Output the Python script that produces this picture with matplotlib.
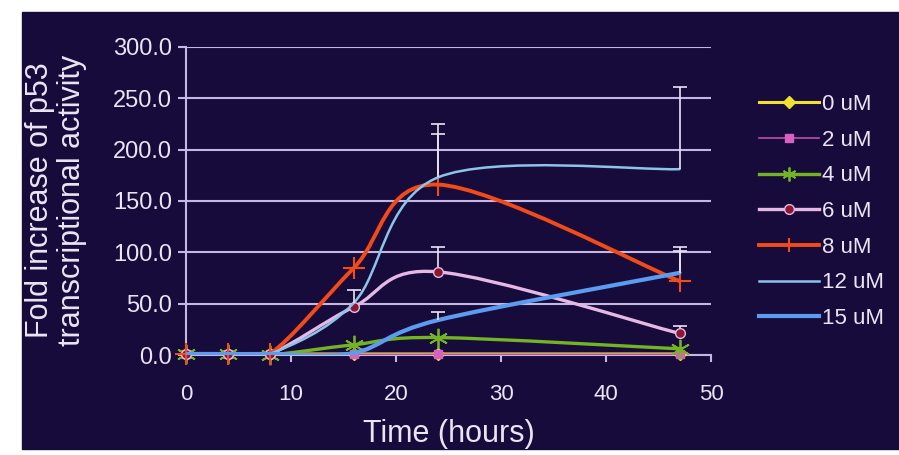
# -*- coding: utf-8 -*-
import numpy as np
import matplotlib
matplotlib.use('Agg')
from matplotlib import pyplot as plt
from matplotlib.path import Path
from matplotlib.patches import PathPatch, Rectangle
from matplotlib.lines import Line2D

plt.rcParams['font.family'] = ['Liberation Sans', 'DejaVu Sans']

# time points (hours)
hours = [0, 4, 8, 16, 24, 47]

# fold increase of p53 transcriptional activity per dose
labels = ['0 uM', '2 uM', '4 uM', '6 uM', '8 uM', '12 uM', '15 uM']
val_0 = [1, 1, 1, 1, 1, 1]
val_2 = [1, 1, 1, 0.6, 0.6, 0.6]
val_4 = [1, 0.5, 0, 10, 17, 6]
val_6 = [1, 1, 1, 47, 81, 21]
val_8 = [1, 1, 1, 85, 166, 72]
val_12 = [1, 1, 1, 51, 173, 181]
val_15 = [1, 1, 1, 2, 34, 80]

# upper error (0 = none drawn)
err_0 = [0, 0, 0, 0, 0, 0]
err_2 = [0, 0, 0, 0, 0, 0]
err_4 = [0, 0, 0, 0, 0, 0]
err_6 = [0, 0, 0, 0, 24, 7]
err_8 = [0, 0, 0, 0, 49, 29]
err_12 = [0, 0, 0, 12, 52, 80]
err_15 = [0, 0, 0, 0, 8, 25]

y_ticks = [0, 50, 100, 150, 200, 250, 300]
x_ticks = [0, 10, 20, 30, 40, 50]

BG = '#170b3c'
FG = '#ece4f4'
GRID = '#c6b6e4'

styles = [
    dict(color='#f2e030', lw=2.2, marker='D', ms=6, mfc='#f2e030', mec='#f2e030'),
    dict(color='#c04ca8', lw=1.2, marker='s', ms=6, mfc='#d860c0', mec='#d860c0'),
    dict(color='#74b424', lw=2.4, marker=(6, 2, 0), ms=14, mfc='#74b424', mec='#74b424', mew=1.3),
    dict(color='#e6b8e6', lw=2.4, marker='o', ms=7, mfc='#8c1830', mec='#e6b8e6', mew=1.0),
    dict(color='#f24a18', lw=2.8, marker='+', ms=16, mfc='#f24a18', mec='#f24a18', mew=1.5),
    dict(color='#8cc4e8', lw=1.8, marker='None'),
    dict(color='#5c9cf0', lw=3.0, marker='None'),
]


def smooth_path(x, y):
    """bezier path through the points, like excel smoothed lines"""
    pts = np.column_stack([x, y]).astype(float)
    n = len(pts)
    verts = [pts[0]]
    codes = [Path.MOVETO]
    for i in range(n - 1):
        p0 = pts[max(i - 1, 0)]
        p1 = pts[i]
        p2 = pts[i + 1]
        p3 = pts[min(i + 2, n - 1)]
        verts += [p1 + (p2 - p0) / 6.0, p2 - (p3 - p1) / 6.0, p2]
        codes += [Path.CURVE4] * 3
    return Path(verts, codes)


def main():
    fig = plt.figure(figsize=(8.99, 4.55), dpi=100, facecolor='white')
    fig.patches.append(Rectangle((22 / 899, 6 / 455), 1, 437 / 455,
                                 transform=fig.transFigure, color=BG, zorder=-10))
    ax = fig.add_axes([186 / 899, 100 / 455, 525 / 899, 308 / 455])
    ax.set_facecolor(BG)
    ax.patch.set_alpha(0)

    series = [val_0, val_2, val_4, val_6, val_8, val_12, val_15]
    errors = [err_0, err_2, err_4, err_6, err_8, err_12, err_15]
    handles = []
    for k, (vals, errs, st) in enumerate(zip(series, errors, styles)):
        z = 3 + k
        ax.add_patch(PathPatch(smooth_path(hours, vals), fill=False,
                               edgecolor=st['color'], lw=st['lw'], zorder=z,
                               capstyle='round', joinstyle='round'))
        ex = [h for h, e in zip(hours, errs) if e > 0]
        ey = [v for v, e in zip(vals, errs) if e > 0]
        ee = [e for e in errs if e > 0]
        if ex:
            _, caps, _ = ax.errorbar(ex, ey, yerr=[[0] * len(ee), ee], fmt='none',
                                     ecolor=FG, elinewidth=1.2, capsize=5,
                                     capthick=1.2, zorder=z)
            caps[0].set_visible(False)
        if st['marker'] != 'None':
            ax.plot(hours, vals, linestyle='none', marker=st['marker'], ms=st['ms'],
                    mfc=st['mfc'], mec=st['mec'], mew=st.get('mew', 1.0), zorder=z + 0.5,
                    clip_on=False)
        handles.append(Line2D([], [], color=st['color'], lw=st['lw'], marker=st['marker'],
                              ms=min(st.get('ms', 6), 10), mfc=st.get('mfc'),
                              mec=st.get('mec'), mew=st.get('mew', 1.0)))

    ax.set_xlim(0, 50)
    ax.set_ylim(0, 300)
    ax.set_xticks(x_ticks)
    ax.set_yticks(y_ticks)
    ax.set_yticklabels(['%.1f' % v for v in y_ticks])
    ax.yaxis.grid(True, color=GRID, lw=1.5)
    ax.set_axisbelow(True)
    for s in ['top', 'right']:
        ax.spines[s].set_visible(False)
    for s in ['left', 'bottom']:
        ax.spines[s].set_color(GRID)
        ax.spines[s].set_linewidth(1.5)
    ax.tick_params(axis='y', colors=GRID, labelcolor=FG, labelsize=17,
                   length=6, width=1.5, pad=4)
    ax.tick_params(axis='x', colors=GRID, labelcolor=FG, labelsize=16,
                   length=5, width=1.5, pad=16)
    ax.set_xlabel('Time (hours)', color=FG, fontsize=22, labelpad=10)

    fig.text(56 / 899, 1 - 200 / 455, 'Fold increase of p53\ntranscriptional activity',
             rotation=90, ha='center', va='center', multialignment='center',
             color=FG, fontsize=22, linespacing=1.05)

    leg = fig.legend(handles, labels, loc='upper left',
                     bbox_to_anchor=(759 / 899, 1 - 94 / 455), frameon=False,
                     fontsize=16, handlelength=2.7, handletextpad=0.15,
                     labelspacing=0.66, borderpad=0, borderaxespad=0)
    for t in leg.get_texts():
        t.set_color(FG)

    fig.savefig('out.png', dpi=100, facecolor=fig.get_facecolor())


if __name__ == '__main__':
    main()
